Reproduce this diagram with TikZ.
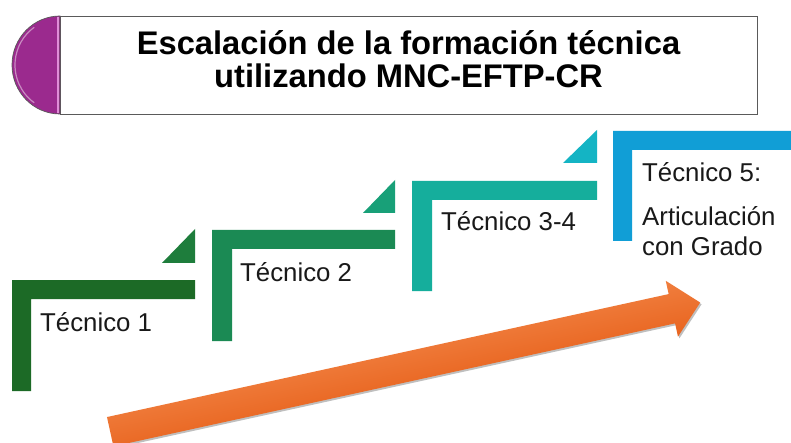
\documentclass[tikz,border=0pt]{standalone}
\usepackage{fontspec}
\setmainfont{Liberation Sans}
\usetikzlibrary{shadows}
\definecolor{sone}{HTML}{1C6A26}
\definecolor{tone}{HTML}{1E7D3C}
\definecolor{stwo}{HTML}{1B8A54}
\definecolor{ttwo}{HTML}{18A078}
\definecolor{sthree}{HTML}{15AE9C}
\definecolor{tthree}{HTML}{14B4C4}
\definecolor{sfour}{HTML}{119ED6}
\definecolor{purp}{HTML}{9B2A8E}
\definecolor{purplight}{HTML}{E08ED8}
\definecolor{orangelight}{HTML}{F07E3E}
\definecolor{orangedark}{HTML}{E8641F}
\definecolor{boxline}{HTML}{5A5A5A}
\tikzset{
  steplabel/.style={anchor=base west, inner sep=0pt, font=\fontsize{25.8}{30}\selectfont, text=black!90},
  titletext/.style={anchor=base, inner sep=0pt, font=\bfseries\fontsize{32.7}{33}\selectfont, text=black}
}
\begin{document}
\begin{tikzpicture}[x=1pt,y=-1pt]
\useasboundingbox (0,0) rectangle (791,443);
\fill[white] (0,0) rectangle (791,443);
% title box
\draw[boxline, line width=0.8pt, fill=white] (60,16) rectangle (757,114);
\draw[fill=purp, draw=gray!70!black, line width=0.7pt] (60,114) arc[start angle=90, end angle=270, x radius=48, y radius=49] -- cycle;
\draw[purplight, line width=2.2pt] (58.3,17.2) -- (58.3,112.8);
\draw[white, opacity=0.45, line width=1.2pt] (60,65) ++(125:45 and 46) arc[start angle=125, end angle=235, x radius=45, y radius=46];
\node[titletext] (title1) at (408.5,54.5) {Escalación de la formación técnica};
\node[titletext] (title2) at (408.5,87.5) {utilizando MNC-EFTP-CR};
% steps
\fill[sone] (12,280) -- (195,280) -- (195,299) -- (31,299) -- (31,391) -- (12,391) -- cycle;
\fill[tone] (162,263) -- (195,263) -- (195,229) -- cycle;
\fill[stwo] (212,230) -- (395,230) -- (395,249) -- (232,249) -- (232,341) -- (212,341) -- cycle;
\fill[ttwo] (363,213) -- (395,213) -- (395,180) -- cycle;
\fill[sthree] (412,181) -- (597,181) -- (597,200) -- (432,200) -- (432,291) -- (412,291) -- cycle;
\fill[tthree] (563,163) -- (597,163) -- (597,130) -- cycle;
\fill[sfour] (613,131) -- (791,131) -- (791,150) -- (632,150) -- (632,241) -- (613,241) -- cycle;
% labels
\node[steplabel] (t1) at (40,331) {Técnico 1};
\node[steplabel] (t2) at (240,281) {Técnico 2};
\node[steplabel] (t3) at (441,231) {Técnico 3-4};
\node[steplabel] (t5) at (642,182) {Técnico 5:};
\node[steplabel] (t5b) at (642,226) {Articulación};
\node[steplabel] (t5c) at (642,256) {con Grado};
% arrow
\begin{scope}[transform canvas={shift={(110.2,431.7)}, rotate=12.35}]
\fill[black, opacity=0.25] (1,-13) -- (576,-13) -- (576,-26.6) -- (605,2) -- (576,30.6) -- (576,17) -- (1,17) -- cycle;
\shade[top color=orangelight, bottom color=orangedark] (0,-15) -- (575,-15) -- (575,-28.6) -- (604,0) -- (575,28.6) -- (575,15) -- (0,15) -- cycle;
\end{scope}
\end{tikzpicture}
\end{document}
